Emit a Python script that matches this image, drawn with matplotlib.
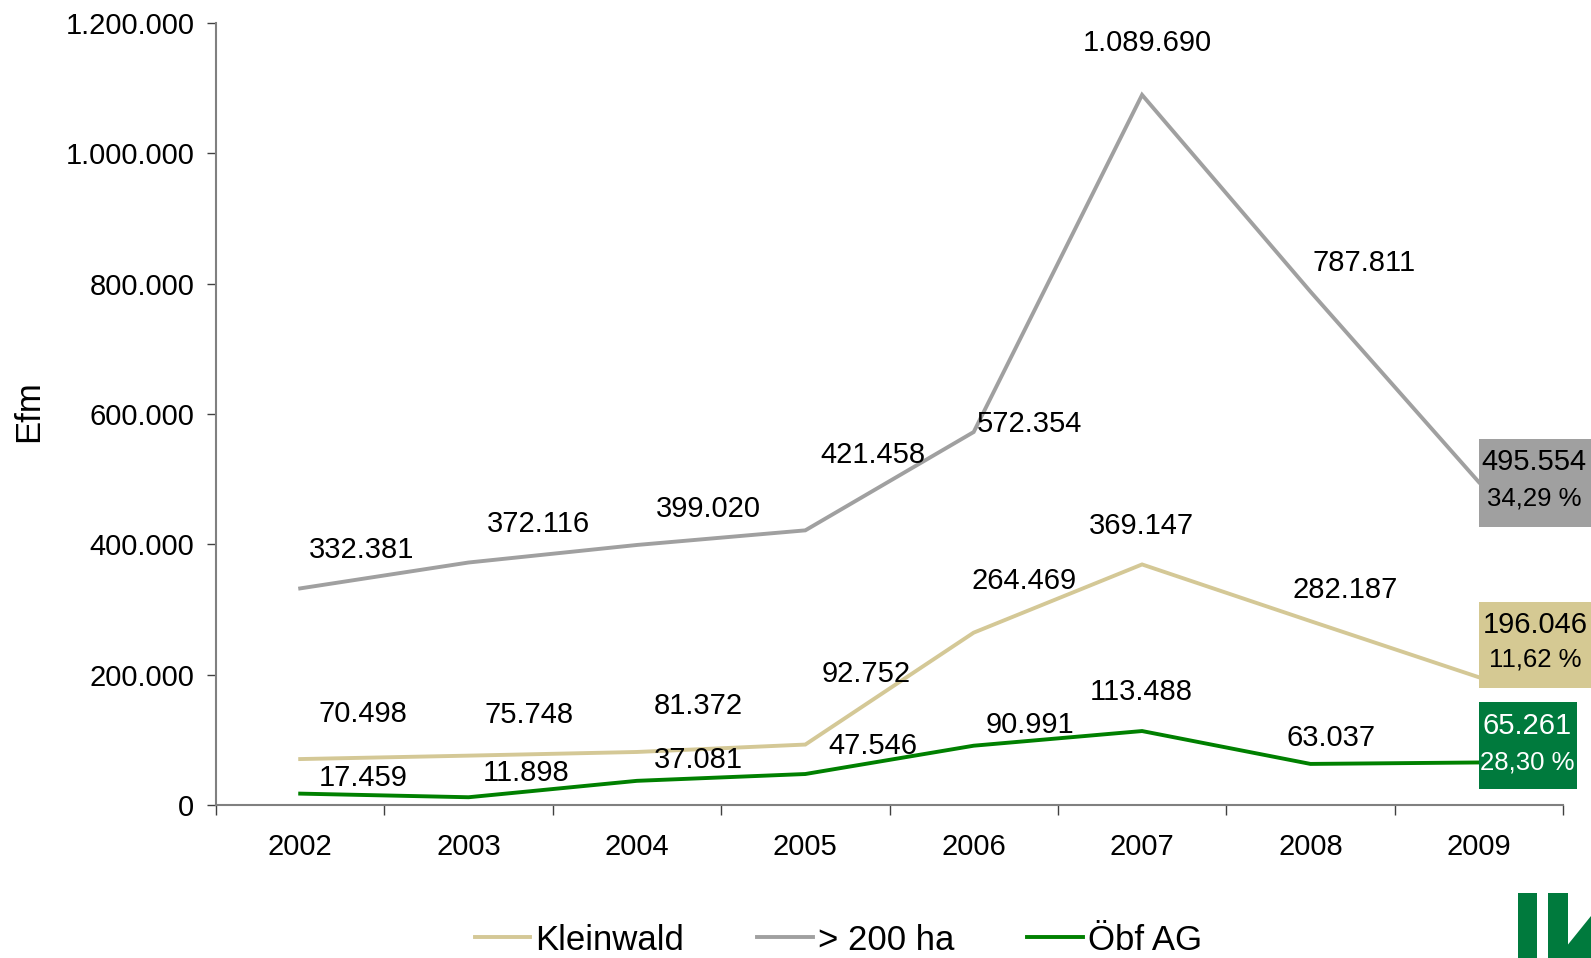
import matplotlib
matplotlib.use('Agg')
import matplotlib.pyplot as plt
from matplotlib.patches import Rectangle, Polygon
from matplotlib.transforms import IdentityTransform

plt.rcParams['font.family'] = ['Liberation Sans', 'DejaVu Sans']

# --- data ------------------------------------------------------------------------
YEARS = ['2002', '2003', '2004', '2005', '2006', '2007', '2008', '2009']
KLEINWALD = [70498, 75748, 81372, 92752, 264469, 369147, 282187, 196046]
GROSS = [332381, 372116, 399020, 421458, 572354, 1089690, 787811, 495554]
OEBF = [17459, 11898, 37081, 47546, 90991, 113488, 63037, 65261]
SHARES = ['11,62 %', '34,29 %', '28,30 %']       # share in 2009 per series
NAMES = ['Kleinwald', '> 200 ha', 'Öbf AG']
Y_TICKS = [0, 200000, 400000, 600000, 800000, 1000000, 1200000]

# --- style -----------------------------------------------------------------------
LINE_COL = ['#D4C896', '#A0A0A0', '#008000']
BOX_COL = ['#D5C993', '#A0A0A0', '#007A3D']
BOX_TXT = ['black', 'black', 'white']
LOGO_COL = '#007A3D'
# label offsets in pixels (dx, dy) for 2002..2008, hand-placed like the source
OFFS = [
    [(63, 45), (61, 41), (61, 46), (61, 71), (50, 52), (-1, 38), (35, 31)],
    [(61, 38), (70, 39), (71, 36), (68, 75), (56, 8), (5, 52), (54, 29)],
    [(63, 16), (58, 24), (61, 21), (68, 28), (56, 21), (-1, 39), (21, 26)],
]
# end box: (width, top, bottom, text dx, line1 dy, line2 dy) in pixels
BOXES = [
    (113, 75, 11, 56, 52, 18),
    (113, 43, 45, 55, 20, -16),
    (98, 60, 27, 48, 36, 0),
]


def fmt(v):
    return f'{v:,}'.replace(',', '.')


W, H = 1591, 958
fig = plt.figure(figsize=(W / 100, H / 100), dpi=100)
ax = fig.add_axes([216 / W, 1 - 805 / H, (1563 - 216) / W, (805 - 23) / H])

x = range(len(YEARS))
series = [KLEINWALD, GROSS, OEBF]
for k, vals in enumerate(series):
    ax.plot(x, vals, color=LINE_COL[k], lw=2.8, label=NAMES[k], solid_joinstyle='miter')
    for i, v in enumerate(vals[:-1]):
        ax.annotate(fmt(v), xy=(i, v), xytext=OFFS[k][i], textcoords='offset pixels',
                    ha='center', va='center', fontsize=21)

ax.set_xlim(-0.5, 7.5)
ax.set_ylim(0, 1200000)
ax.set_yticks(Y_TICKS)
ax.set_yticklabels([fmt(t) for t in Y_TICKS])
ax.set_xticks([i - 0.5 for i in range(len(YEARS) + 1)])
ax.set_xticklabels([])
ax.set_xticks(list(x), minor=True)
ax.set_xticklabels(YEARS, minor=True)
ax.tick_params(axis='y', direction='out', length=6.5, width=1, color='#404040',
               labelsize=21, pad=9)
ax.tick_params(axis='x', which='major', direction='out', length=7.2, width=1, color='#404040')
ax.tick_params(axis='x', which='minor', length=0, labelsize=21, pad=20)
for s in ['top', 'right']:
    ax.spines[s].set_visible(False)
for s in ['left', 'bottom']:
    ax.spines[s].set_color('#808080')
    ax.spines[s].set_linewidth(1.5)

fig.text(29 / W, 1 - 411 / H, 'Efm', rotation=90, ha='center', va='center', fontsize=25)

# end-of-series value boxes
last = len(YEARS) - 1
for k, vals in enumerate(series):
    w, top, bot, tdx, d1, d2 = BOXES[k]
    px, py = ax.transData.transform((last, vals[-1]))
    fig.add_artist(Rectangle((px, py - bot), w, top + bot, transform=IdentityTransform(),
                             facecolor=BOX_COL[k], edgecolor='none', zorder=5))
    fig.text(px + tdx, py + d1, fmt(vals[-1]), transform=IdentityTransform(),
             ha='center', va='center', fontsize=21, color=BOX_TXT[k], zorder=6)
    fig.text(px + tdx, py + d2, SHARES[k], transform=IdentityTransform(),
             ha='center', va='center', fontsize=18.5, color=BOX_TXT[k], zorder=6)

fig.legend(loc='center', bbox_to_anchor=(0.527, 1 - 940 / H), ncol=3, frameon=False,
           fontsize=25, handlelength=1.6, handletextpad=0.15, columnspacing=2.1)

# cropped logo mark in the bottom-right corner (pixel coords, origin bottom-left)
logo = [Rectangle((1518, 0), 19, H - 893), Rectangle((1548, 0), 20, H - 893),
        Polygon([(1566, 0), (1566, H - 947), (1591, H - 916), (1591, 0)])]
for p in logo:
    p.set_transform(IdentityTransform())
    p.set_facecolor(LOGO_COL)
    p.set_edgecolor('none')
    fig.add_artist(p)

fig.savefig('out.png', dpi=100)
